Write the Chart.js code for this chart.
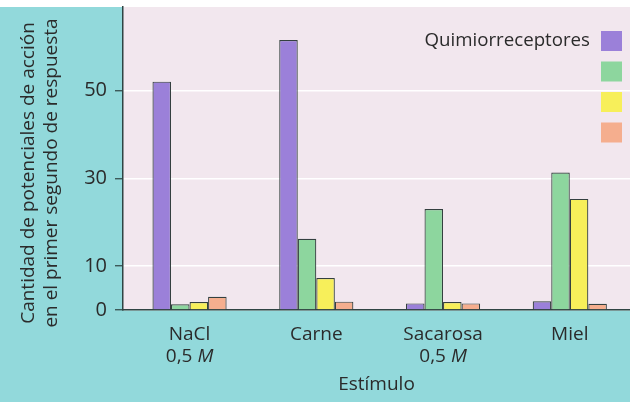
<!DOCTYPE html>
<html>
<head>
<meta charset="utf-8">
<script src="https://cdn.jsdelivr.net/npm/chart.js@4.4.1/dist/chart.umd.min.js"></script>
<style>
  html, body { margin: 0; padding: 0; background: #fff; overflow: hidden; }
  #wrap { width: 630px; height: 402px; }
</style>
</head>
<body>
<div id="wrap"><canvas id="myChart" width="630" height="402"></canvas></div>
<script>
let estimulos = [['NaCl', '0,5 M'], 'Carne', ['Sacarosa', '0,5 M'], 'Miel'];
let serieNombres = ['Quimiorreceptores', '', '', ''];
let serieMorada = [52, 61.5, 1.5, 2];
let serieVerde = [1.3, 16.2, 23, 31.3];
let serieAmarilla = [1.8, 7.3, 1.8, 25.3];
let serieNaranja = [3, 1.9, 1.5, 1.4];
let marcasY = [0, 10, 30, 50];
let tituloY = ['Cantidad de potenciales de acción', 'en el primer segundo de respuesta'];
let tituloX = 'Estímulo';

const COLORES = ['#9b80d9', '#8dd69e', '#f7ef5a', '#f5ae8e'];
const FUENTE = "'Open Sans', 'Noto Sans', sans-serif";
const TEXTO = '#2b2b2b';

// fondo turquesa, franja blanca arriba y zona del grafico clara
const fondo = {
  id: 'fondo',
  beforeDraw(chart) {
    const ctx = chart.ctx, a = chart.chartArea;
    ctx.save();
    ctx.fillStyle = '#92d9db';
    ctx.fillRect(0, 0, chart.width, chart.height);
    ctx.fillStyle = '#ffffff';
    ctx.fillRect(0, 0, chart.width, a.top);
    ctx.fillStyle = '#f2e7ee';
    ctx.fillRect(a.left, a.top, a.right - a.left, a.bottom - a.top);
    ctx.restore();
  }
};

// textos: leyenda (texto y luego cuadro), etiquetas x con M en cursiva, titulo y
const textos = {
  id: 'textos',
  afterDraw(chart) {
    const ctx = chart.ctx;
    ctx.save();
    ctx.font = '18.7px ' + FUENTE;
    ctx.textAlign = 'right';
    ctx.textBaseline = 'middle';
    chart.data.datasets.forEach((ds, i) => {
      let y = 41 + i * 30.5;
      ctx.fillStyle = ds.backgroundColor;
      ctx.fillRect(601, y - 10, 21, 20);
      if (ds.label) {
        ctx.fillStyle = TEXTO;
        ctx.fillText(ds.label, 590, y);
      }
    });

    const x = chart.scales.x;
    ctx.fillStyle = TEXTO;
    ctx.textBaseline = 'middle';
    estimulos.forEach((lab, i) => {
      let cx = x.getPixelForTick(i);
      let lineas = Array.isArray(lab) ? lab : [lab];
      lineas.forEach((t, j) => {
        let y = x.top + 25 + j * 22;
        let normal = t, cursiva = '';
        if (t.endsWith(' M')) { normal = t.slice(0, -1); cursiva = 'M'; }
        ctx.font = '19px ' + FUENTE;
        let w1 = ctx.measureText(normal).width;
        ctx.font = 'italic 19px ' + FUENTE;
        let w2 = cursiva ? ctx.measureText(cursiva).width : 0;
        let x0 = cx - (w1 + w2) / 2;
        ctx.textAlign = 'left';
        ctx.font = '19px ' + FUENTE;
        ctx.fillText(normal, x0, y);
        if (cursiva) {
          ctx.font = 'italic 19px ' + FUENTE;
          ctx.fillText(cursiva, x0 + w1, y);
        }
      });
    });

    ctx.translate(0, 173);
    ctx.rotate(-Math.PI / 2);
    ctx.textAlign = 'center';
    ctx.font = '19px ' + FUENTE;
    ctx.fillText(tituloY[0], 0, 29);
    ctx.fillText(tituloY[1], 0, 52);
    ctx.restore();
  }
};

let chartElement = document.getElementById('myChart').getContext('2d');
let seriesValores = [serieMorada, serieVerde, serieAmarilla, serieNaranja];

let myChart = new Chart(chartElement, {
  type: 'bar',
  data: {
    labels: estimulos,
    datasets: seriesValores.map((v, i) => ({
      label: serieNombres[i],
      data: v,
      backgroundColor: COLORES[i],
      borderColor: '#34403f',
      borderWidth: 1.2,
      barPercentage: 1,
      categoryPercentage: 0.585
    }))
  },
  options: {
    responsive: false,
    animation: false,
    layout: { padding: { top: 7, right: 0, bottom: 0, left: 0 } },
    plugins: {
      legend: { display: false },
      tooltip: { enabled: false }
    },
    scales: {
      x: {
        afterBuildTicks(axis) { axis._startValue -= 0.025; },
        afterFit(axis) { axis.height = 92; axis.paddingLeft = 0; axis.paddingRight = 0; },
        grid: { display: false, drawTicks: false },
        border: { color: '#2f4443', width: 1.5 },
        ticks: { display: false },
        title: { display: true, text: tituloX, color: TEXTO, font: { family: FUENTE, size: 19, lineHeight: 1.2 }, padding: { top: 0, bottom: 6 } }
      },
      y: {
        min: 0,
        max: 69,
        afterBuildTicks(axis) { axis.ticks = marcasY.map(v => ({ value: v })); },
        afterFit(axis) { axis.width = 123; axis.paddingTop = 0; axis.paddingBottom = 0; },
        grid: { color: '#ffffff', lineWidth: 1.5, tickColor: '#2f4443', tickLength: 8, tickWidth: 1.2 },
        border: { color: '#2f4443', width: 1.5 },
        ticks: { color: TEXTO, font: { family: FUENTE, size: 20 }, padding: 8 }
      }
    }
  },
  plugins: [fondo, textos]
});
</script>
</body>
</html>
